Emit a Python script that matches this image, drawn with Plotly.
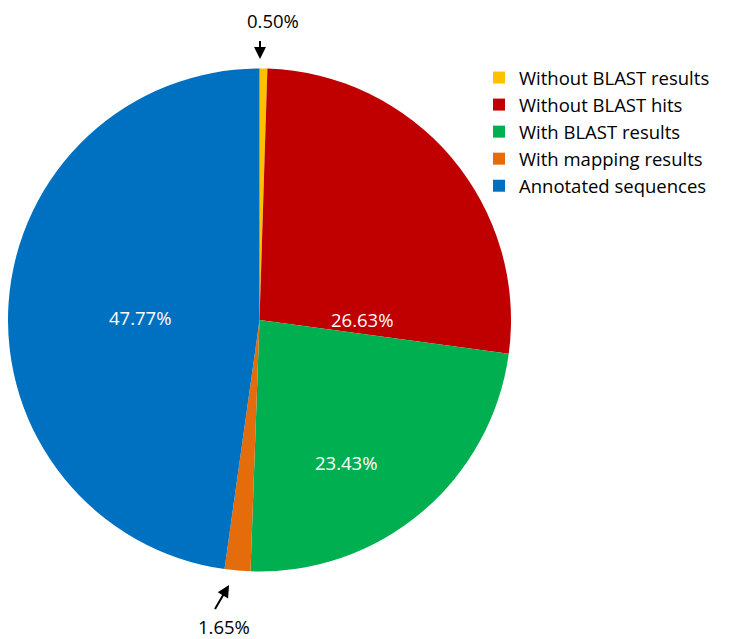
import plotly.graph_objects as go

categories = ["Without BLAST results", "Without BLAST hits", "With BLAST results",
              "With mapping results", "Annotated sequences"]
values = [0.50, 26.63, 23.43, 1.65, 47.77]
colors = ["#FFC000", "#C00000", "#00B050", "#E46C0A", "#0070C0"]

W, H = 742, 639
OFF = 8  # page body margin in the browser
FONT = "Open Sans"
FS = 18.5


def px(x, y):
    """screen pixel -> paper fraction"""
    return (x - OFF) / W, 1 - (y - OFF) / H


# pie: screen centre ~ (259.5, 320), radius ~251.5
cx, cy, r = 259.5, 320, 251.5
x0, _ = px(cx - r, 0)
x1, _ = px(cx + r, 0)
_, ytop = px(0, cy - r)
_, ybot = px(0, cy + r)

fig = go.Figure(go.Pie(
    labels=categories,
    values=values,
    marker=dict(colors=colors, line=dict(width=0)),
    sort=False,
    direction="clockwise",
    rotation=0,
    textinfo="none",
    hoverinfo="label+percent",
    domain=dict(x=[max(x0, 0), x1], y=[ybot, ytop]),
))

# label text positions (screen pixels) for each slice
label_pos = [(273, 20), (362, 320), (346, 462), (224, 626), (140, 317)]
label_col = ["black", "white", "white", "black", "white"]
annotations = []
for v, (lx, ly), c in zip(values, label_pos, label_col):
    ax_, ay_ = px(lx, ly)
    annotations.append(dict(x=ax_, y=ay_, xref="paper", yref="paper",
                            xanchor="center", yanchor="middle",
                            text=f"{v:.2f}%", showarrow=False,
                            font=dict(family=FONT, size=FS, color=c)))

# leader arrows for the two small slices
arrows = [((260, 59), (260, 31)), ((229, 585), (212, 614))]
for (tx, ty), (sx, sy) in arrows:
    ex, ey = px(tx, ty)
    annotations.append(dict(x=ex, y=ey, xref="paper", yref="paper",
                            ax=sx - tx, ay=sy - ty, text=" ", showarrow=True,
                            arrowhead=2, arrowsize=1.2, arrowwidth=2,
                            arrowcolor="black", standoff=0, startstandoff=0))

lx, ly = px(479, 59)
fig.update_layout(
    width=W, height=H,
    margin=dict(l=0, r=0, t=0, b=0, autoexpand=False),
    paper_bgcolor="white",
    plot_bgcolor="white",
    showlegend=True,
    legend=dict(x=lx, y=ly, xanchor="left", yanchor="top",
                bgcolor="rgba(0,0,0,0)",
                font=dict(family=FONT, size=FS, color="black"),
                traceorder="normal", itemclick=False, tracegroupgap=0),
    annotations=annotations,
)

fig.write_html("out.html")
